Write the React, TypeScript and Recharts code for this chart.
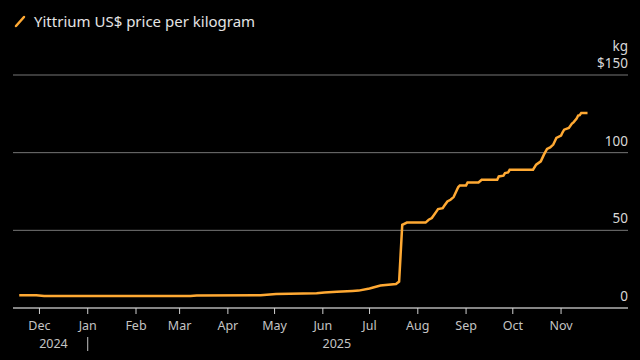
import { CartesianGrid, Line, LineChart, XAxis, YAxis } from "recharts"

// Yttrium price, US$/kg
const dates = [
  "2024-11-18", "2024-11-29", "2024-12-04", "2025-03-08", "2025-03-12", "2025-04-22",
  "2025-05-02", "2025-05-28", "2025-06-02", "2025-06-10", "2025-06-20", "2025-06-24",
  "2025-07-01", "2025-07-08", "2025-07-18", "2025-07-20", "2025-07-22", "2025-07-25",
  "2025-08-06", "2025-08-08", "2025-08-10", "2025-08-13", "2025-08-14", "2025-08-17",
  "2025-08-18", "2025-08-20", "2025-08-22", "2025-08-24", "2025-08-27", "2025-08-28",
  "2025-09-01", "2025-09-02", "2025-09-09", "2025-09-11", "2025-09-21", "2025-09-22",
  "2025-09-25", "2025-09-26", "2025-09-28", "2025-09-29", "2025-10-14", "2025-10-16",
  "2025-10-19", "2025-10-21", "2025-10-23", "2025-10-25", "2025-10-27", "2025-10-29",
  "2025-11-01", "2025-11-02", "2025-11-03", "2025-11-06", "2025-11-08", "2025-11-09",
  "2025-11-11", "2025-11-12", "2025-11-13", "2025-11-14", "2025-11-18",
]
const prices = [
  8.2, 8.2, 7.8, 7.8, 8.1, 8.2,
  9.0, 9.5, 10.0, 10.5, 11.0, 11.2,
  12.6, 14.5, 15.5, 17.0, 53.5, 55.0,
  55.0, 56.8, 57.9, 62.2, 63.7, 64.3,
  65.8, 68.6, 69.7, 71.4, 77.9, 78.9,
  78.9, 80.8, 80.8, 82.6, 82.6, 84.7,
  85.2, 86.9, 87.3, 89.0, 89.0, 92.3,
  94.4, 98.7, 102.4, 103.4, 105.2, 109.5,
  111.0, 113.1, 114.8, 115.9, 118.7, 119.5,
  121.9, 123.9, 124.1, 125.6, 125.6,
]

const monthTicks = [
  "2024-12-01", "2025-01-01", "2025-02-01", "2025-03-01", "2025-04-01", "2025-05-01",
  "2025-06-01", "2025-07-01", "2025-08-01", "2025-09-01", "2025-10-01", "2025-11-01",
]
const monthLabels = ["Dec", "Jan", "Feb", "Mar", "Apr", "May", "Jun", "Jul", "Aug", "Sep", "Oct", "Nov"]
const priceTicks = [0, 50, 100, 150]

const toTime = (d: string) => Date.parse(d + "T00:00:00Z")
const data = dates.map((d, i) => ({ t: toTime(d), price: prices[i] }))
const tickTimes = monthTicks.map(toTime)
const xDomain = [toTime("2024-11-14"), toTime("2025-12-14")]

const FONT = "'Noto Sans', 'Open Sans', sans-serif"
const TEXT = "#d8d8d8"

const MonthTick = (props: any) => {
  const { x, y, payload } = props
  const label = monthLabels[tickTimes.indexOf(payload.value)]
  return (
    <g fontFamily={FONT} fontSize={12.5} fill="#c4c4c4">
      <text x={x} y={y + 14} textAnchor="middle">{label}</text>
      {label === "Dec" && <text x={x + 14} y={y + 32} textAnchor="middle">2024</text>}
      {label === "Jan" && <line x1={x} x2={x} y1={y + 21} y2={y + 35} stroke="#c4c4c4" strokeWidth={1} />}
      {label === "Jun" && <text x={x + 14} y={y + 32} textAnchor="middle">2025</text>}
    </g>
  )
}

const PriceTick = (props: any) => {
  const { x, y, payload } = props
  const v = payload.value
  return (
    <g fontFamily={FONT} fontSize={13.5} fill={TEXT}>
      {v === 150 && <text x={x} y={y - 24} textAnchor="end">kg</text>}
      <text x={x} y={y - 7} textAnchor="end">{v === 150 ? "$150" : v}</text>
    </g>
  )
}

export default function App() {
  return (
    <div style={{ position: "fixed", left: 0, top: 0, width: 640, height: 360, background: "#000", overflow: "hidden" }}>
      <div
        style={{
          position: "absolute",
          left: 14,
          top: 11,
          display: "flex",
          alignItems: "center",
          fontFamily: FONT,
          fontSize: 15,
          color: "#e4e4e4",
        }}
      >
        <svg width={14} height={14} style={{ marginRight: 6 }}>
          <line x1={2} y1={12} x2={10} y2={3} stroke="#ffa933" strokeWidth={2.5} strokeLinecap="round" />
        </svg>
        Yittrium US$ price per kilogram
      </div>
      <LineChart
        width={640}
        height={360}
        data={data}
        margin={{ top: 75, right: 12, bottom: 0, left: 13 }}
        style={{ position: "absolute", left: 0, top: 0 }}
      >
        <CartesianGrid vertical={false} stroke="#767676" />
        <XAxis
          dataKey="t"
          type="number"
          scale="time"
          domain={xDomain}
          ticks={tickTimes}
          tick={<MonthTick />}
          height={52}
          axisLine={{ stroke: "#d0d0d0" }}
          tickLine={{ stroke: "#d0d0d0" }}
          tickSize={6}
          interval={0}
        />
        <YAxis
          orientation="right"
          mirror
          domain={[0, 150]}
          ticks={priceTicks}
          tick={<PriceTick />}
          axisLine={false}
          tickLine={false}
          tickSize={0}
          tickMargin={0}
          width={40}
        />
        <Line
          type="linear"
          dataKey="price"
          stroke="#ffa933"
          strokeWidth={2.5}
          dot={false}
          isAnimationActive={false}
        />
      </LineChart>
    </div>
  )
}
